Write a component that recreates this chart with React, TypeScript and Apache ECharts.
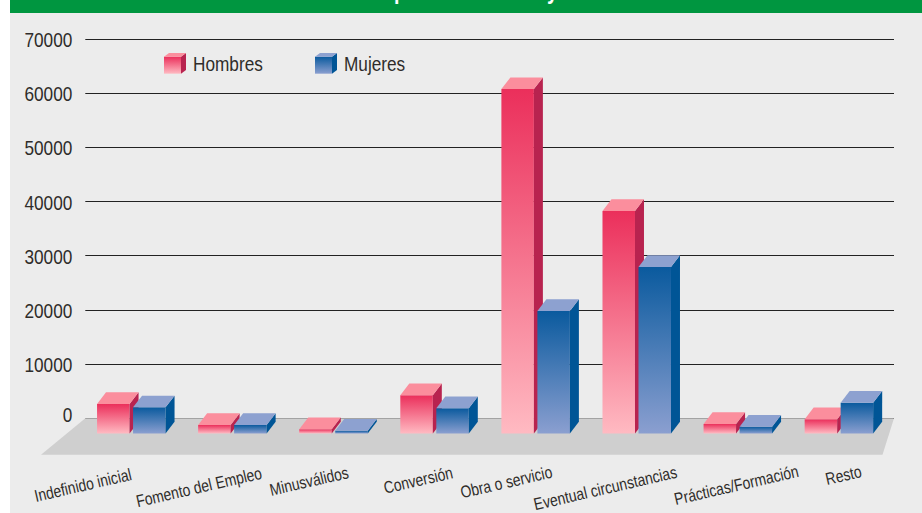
import React, { useEffect, useRef } from "react";
import * as echarts from "echarts";

const categories = [
  "Indefinido inicial",
  "Fomento del Empleo",
  "Minusválidos",
  "Conversión",
  "Obra o servicio",
  "Eventual circunstancias",
  "Prácticas/Formación",
  "Resto",
];
const hombres = [5440, 1570, 775, 7050, 63560, 41050, 1750, 2620];
const mujeres = [4830, 1570, 520, 4650, 22600, 30720, 1250, 5680];
const yTicks = [0, 10000, 20000, 30000, 40000, 50000, 60000, 70000];
const labelDx = [-53, -38, -29, -21, -34, -36, -6, 0];
const labelY = [485, 487, 481, 480, 482, 488, 485, 475];

const FONT = '"Liberation Sans", Arial, sans-serif';
const NARROW = 0.82;
const TEXT = "#2f2c2a";
const BAR_W = 32.5;
const DX = 9;
const DY = 11.7;
const FRONT_DROP = 15.2;

const red = { top: "#fb8e9d", side: "#b8234f", from: "#eb2f5b", to: "#ffbac2" };
const blue = { top: "#8da1d0", side: "#005596", from: "#0a5a9e", to: "#8b9fd0" };

function cube(x: number, top: number, bottom: number, c: typeof red, w = BAR_W, dx = DX, dy = DY) {
  return [
    {
      type: "rect",
      shape: { x, y: top, width: w, height: bottom - top },
      style: {
        fill: new echarts.graphic.LinearGradient(0, 0, 0, 1, [
          { offset: 0, color: c.from },
          { offset: 1, color: c.to },
        ]),
      },
    },
    {
      type: "polygon",
      shape: { points: [[x + w, top], [x + w + dx, top - dy], [x + w + dx, bottom - dy], [x + w, bottom]] },
      style: { fill: c.side },
    },
    {
      type: "polygon",
      shape: { points: [[x, top], [x + dx, top - dy], [x + w + dx, top - dy], [x + w, top]] },
      style: { fill: c.top },
    },
  ];
}

function barRenderer(c: typeof red, offset: number) {
  return (_: any, api: any) => {
    const top = api.coord([api.value(0), api.value(1)]);
    const base = api.coord([api.value(0), 0]);
    return {
      type: "group",
      children: cube(top[0] + offset, top[1] + FRONT_DROP, base[1] + FRONT_DROP, c),
    };
  };
}

function legendItem(x: number, label: string, c: typeof red, textX: number) {
  return [
    ...cube(x, 56.7, 73.7, c, 17, 5, 3.7),
    {
      type: "text",
      x: textX,
      y: 64,
      scaleX: NARROW,
      style: { text: label, font: `21px ${FONT}`, fill: TEXT, verticalAlign: "middle" },
    },
  ];
}

export default function App() {
  const ref = useRef<HTMLDivElement>(null);
  useEffect(() => {
    document.body.style.margin = "0";
    const chart = echarts.init(ref.current!, undefined, { renderer: "svg" });
    chart.setOption({
      animation: false,
      backgroundColor: "#ffffff",
      graphic: {
        elements: [
          { type: "rect", z: -10, shape: { x: 10, y: 0, width: 912, height: 513 }, style: { fill: "#ececec" }, silent: true },
          { type: "rect", z: -9, shape: { x: 10, y: 0, width: 912, height: 13 }, style: { fill: "#009640" }, silent: true },
          { type: "text", z: 5, x: 394, y: 3, scaleX: NARROW, style: { text: "p", font: `bold 24px ${FONT}`, fill: "#fff", verticalAlign: "bottom" } },
          { type: "text", z: 5, x: 547, y: 3, scaleX: NARROW, style: { text: "y", font: `bold 24px ${FONT}`, fill: "#fff", verticalAlign: "bottom" } },
          ...legendItem(164, "Hombres", red, 193),
          ...legendItem(315, "Mujeres", blue, 344),
        ],
      },
      grid: { left: 85.3, top: 39, width: 808.7, height: 379.3 },
      xAxis: {
        type: "category",
        data: categories,
        axisLine: { show: false },
        axisTick: { show: false },
        axisLabel: { show: false },
      },
      yAxis: {
        type: "value",
        min: 0,
        max: 70000,
        interval: 10000,
        axisLine: { show: false },
        axisTick: { show: false },
        axisLabel: { show: false },
        splitLine: { lineStyle: { color: "#222222", width: 1.2 } },
      },
      series: [
        {
          type: "custom",
          name: "Suelo",
          z: 1,
          clip: false,
          silent: true,
          data: [[0, 0]],
          encode: { x: 0, y: 1 },
          renderItem: (params: any) => {
            const s = params.coordSys;
            const y0 = s.y + s.height;
            return {
              type: "polygon",
              shape: {
                points: [
                  [s.x, y0],
                  [s.x + s.width, y0],
                  [s.x + s.width - 11.5, y0 + 36.4],
                  [s.x - 44.3, y0 + 36.4],
                ],
              },
              style: { fill: "#cfcfcf" },
            };
          },
        },
        {
          type: "custom",
          name: "Hombres",
          z: 3,
          clip: false,
          data: categories.map((_, i) => [i, hombres[i]]),
          encode: { x: 0, y: 1 },
          renderItem: barRenderer(red, -38.8),
        },
        {
          type: "custom",
          name: "Mujeres",
          z: 4,
          clip: false,
          data: categories.map((_, i) => [i, mujeres[i]]),
          encode: { x: 0, y: 1 },
          renderItem: barRenderer(blue, -2.8),
        },
        {
          type: "custom",
          name: "Etiquetas",
          z: 5,
          clip: false,
          silent: true,
          data: categories.map((_, i) => [i, 0]),
          encode: { x: 0, y: 1 },
          renderItem: (_: any, api: any) => {
            const i = api.value(0);
            const p = api.coord([i, 0]);
            return {
              type: "text",
              x: p[0] + labelDx[i],
              y: labelY[i],
              rotation: (13 * Math.PI) / 180,
              scaleX: NARROW,
              style: {
                text: categories[i],
                font: `17px ${FONT}`,
                fill: TEXT,
                align: "center",
                verticalAlign: "middle",
              },
            };
          },
        },
        {
          type: "custom",
          name: "Eje",
          z: 5,
          clip: false,
          silent: true,
          data: yTicks.map((v) => [0, v]),
          encode: { x: 0, y: 1 },
          renderItem: (params: any, api: any) => {
            const v = api.value(1);
            const p = api.coord([0, v]);
            return {
              type: "text",
              x: params.coordSys.x - 13,
              y: p[1] + (v === 0 ? -3 : 1),
              scaleX: NARROW,
              style: {
                text: String(v),
                font: `21px ${FONT}`,
                fill: TEXT,
                align: "right",
                verticalAlign: "middle",
              },
            };
          },
        },
      ],
    });
    return () => chart.dispose();
  }, []);
  return <div ref={ref} style={{ width: 922, height: 513 }} />;
}
